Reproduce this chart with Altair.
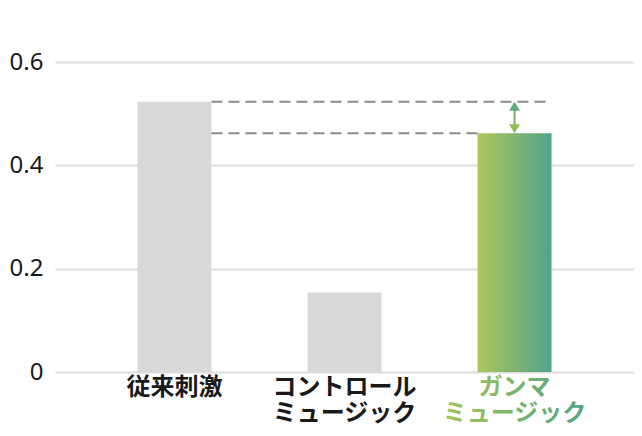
import altair as alt
import pandas as pd

categories = ["従来刺激", "コントロール\nミュージック", "ガンマ\nミュージック"]
values = [0.523, 0.154, 0.462]
y_ticks = [0, 0.2, 0.4, 0.6]

df = pd.DataFrame({"cat": categories, "value": values})
ref_top = values[0]
ref_bottom = values[2]

grad_bar = alt.LinearGradient(
    gradient="linear", x1=0, x2=1, y1=0, y2=0,
    stops=[alt.GradientStop(offset=0, color="#abc75a"),
           alt.GradientStop(offset=0.5, color="#82b372"),
           alt.GradientStop(offset=1, color="#4da589")])
grad_text = alt.LinearGradient(
    gradient="linear", x1=0, x2=1, y1=0, y2=0,
    stops=[alt.GradientStop(offset=0, color="#a6c65a"),
           alt.GradientStop(offset=1, color="#4fa383")])

xscale = alt.Scale(domain=categories, paddingInner=0.565, paddingOuter=0.485, align=0.5)
yscale = alt.Scale(domain=[0, 0.6])

base = alt.Chart(df)

bars = base.transform_filter(alt.datum.cat != categories[2]).mark_bar(color="#d9d9d9").encode(
    x=alt.X("cat:N", scale=xscale, axis=None),
    y=alt.Y("value:Q", scale=yscale,
            axis=alt.Axis(values=y_ticks, title=None, ticks=False, domain=False,
                          labelFontSize=24, labelFont="Noto Sans", labelColor="#1a1a1a",
                          labelPadding=12, gridColor="#dcdcdc", gridWidth=2,
                          labelExpr="datum.value == 0 ? '0' : format(datum.value, '.1f')")),
)
gbar = base.transform_filter(alt.datum.cat == categories[2]).mark_bar(fill=grad_bar).encode(
    x=alt.X("cat:N", scale=xscale), y=alt.Y("value:Q", scale=yscale))

lines_df = pd.DataFrame({
    "x1": [categories[0], categories[0]],
    "x2": [categories[2], categories[2]],
    "y": [ref_top, ref_bottom],
    "which": ["top", "bottom"],
})
dash_top = alt.Chart(lines_df).transform_filter(alt.datum.which == "top").mark_rule(
    color="#8a8a8a", strokeWidth=2, strokeDash=[11, 6], xOffset=37, x2Offset=37).encode(
    x=alt.X("x1:N", scale=xscale), x2="x2:N", y=alt.Y("y:Q", scale=yscale))
dash_bot = alt.Chart(lines_df).transform_filter(alt.datum.which == "bottom").mark_rule(
    color="#8a8a8a", strokeWidth=2, strokeDash=[11, 6], xOffset=37, x2Offset=-37).encode(
    x=alt.X("x1:N", scale=xscale), x2="x2:N", y=alt.Y("y:Q", scale=yscale))

arrow_df = pd.DataFrame({"cat": [categories[2]], "top": [ref_top], "bottom": [ref_bottom]})
shaft = alt.Chart(arrow_df).mark_rule(color="#78b268", strokeWidth=2, yOffset=6, y2Offset=-6).encode(
    x=alt.X("cat:N", scale=xscale), y=alt.Y("top:Q", scale=yscale), y2="bottom:Q")
head_up = alt.Chart(arrow_df).mark_point(
    shape="M0,0 L1.1,1.8 L-1.1,1.8 Z", size=100, filled=True, opacity=1, color="#5fab78").encode(
    x=alt.X("cat:N", scale=xscale), y=alt.Y("top:Q", scale=yscale))
head_down = alt.Chart(arrow_df).mark_point(
    shape="M0,0 L1.1,-1.8 L-1.1,-1.8 Z", size=100, filled=True, opacity=1, color="#8fbe55").encode(
    x=alt.X("cat:N", scale=xscale), y=alt.Y("bottom:Q", scale=yscale))

labels = base.transform_filter(alt.datum.cat != categories[2]).mark_text(
    font="Noto Sans CJK JP", fontWeight="bold", fontSize=24, color="#1a1a1a",
    baseline="top", lineBreak="\n", lineHeight=26, align="center").encode(
    x=alt.X("cat:N", scale=xscale), y=alt.value(314), text="cat:N")
glabel = base.transform_filter(alt.datum.cat == categories[2]).mark_text(
    font="Noto Sans CJK JP", fontWeight="bold", fontSize=24, fill=grad_text,
    baseline="top", lineBreak="\n", lineHeight=26, align="center").encode(
    x=alt.X("cat:N", scale=xscale), y=alt.value(314), text="cat:N")

chart = alt.layer(bars, gbar, dash_top, dash_bot, shaft, head_up, head_down, labels, glabel).properties(
    width=579, height=310,
    padding={"top": 54, "left": 47, "right": 0, "bottom": 54},
    autosize=alt.AutoSizeParams(type="none"),
).configure_view(stroke=None)

chart.save("out.html", embed_options={"renderer": "svg", "actions": False})
